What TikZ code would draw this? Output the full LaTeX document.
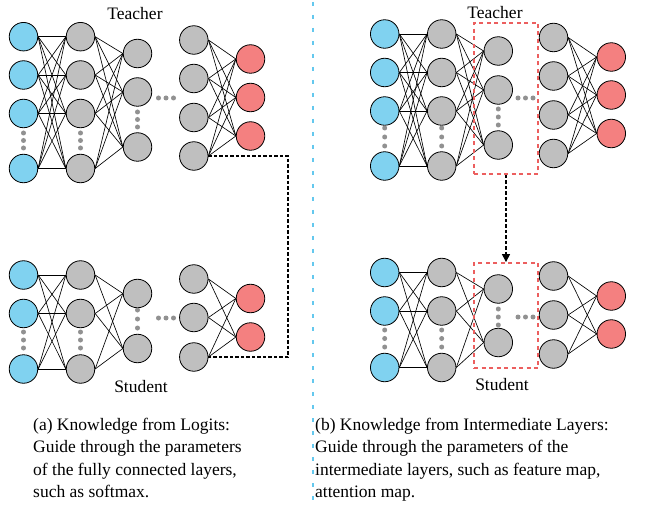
\documentclass[tikz,border=0pt]{standalone}
\usepackage{fontspec}
\setmainfont{Liberation Serif}
\usetikzlibrary{arrows.meta}
\definecolor{inblue}{RGB}{128,210,240}
\definecolor{hidgray}{RGB}{191,191,191}
\definecolor{outred}{RGB}{244,128,128}
\definecolor{dotgray}{RGB}{145,145,145}
\definecolor{divblue}{RGB}{100,200,238}
\definecolor{boxred}{RGB}{236,95,95}
\tikzset{
  neuron/.style={circle, draw=black, line width=0.8pt, minimum size=28.5pt, inner sep=0pt},
  inp/.style={neuron, fill=inblue},
  hid/.style={neuron, fill=hidgray},
  outp/.style={neuron, fill=outred},
  conn/.style={line width=0.65pt, black},
  ddot/.style={circle, fill=dotgray, inner sep=0pt, minimum size=5pt},
  nnlabel/.style={font=\fontsize{17.5}{21}\selectfont, inner sep=0pt},
  caption/.style={font=\fontsize{17.5}{22.3}\selectfont, align=left, anchor=north west, inner sep=0pt},
  kdash/.style={black, line width=1.2pt, dash pattern=on 3.5pt off 2pt},
  featbox/.style={draw=boxred, line width=1.8pt, dash pattern=on 4pt off 3.5pt},
  divider/.style={divblue, line width=2.2pt, dash pattern=on 4pt off 9pt},
}
\newcommand\mkcol[4]{%
  \foreach \yy [count=\k] in {#4} {\node[#3] (#1-\k) at (#2,\yy) {};}}
\newcommand\mkconn[4]{%
  \foreach \a in {1,...,#2} {\foreach \b in {1,...,#4} {\draw[conn] (#1-\a.east) -- (#3-\b.west);}}}
\newcommand\mkdots[2]{% name prefix, list of x/y pairs
  \foreach \px/\py [count=\k] in {#2} {\node[ddot] (#1-\k) at (\px,\py) {};}}
\begin{document}
\begin{tikzpicture}[x=1pt,y=-1pt]
\useasboundingbox (0,0) rectangle (664,505);
\fill[white] (0,0) rectangle (664,505);

% ---------------- Left teacher ----------------
\mkcol{LTa}{23.5}{inp}{36.7,75,113.5,168.5}
\mkcol{LTb}{80.5}{hid}{36.7,75,113.5,168.5}
\mkcol{LTc}{137.5}{hid}{53.5,92,147}
\mkcol{LTd}{193.8}{hid}{40,78.5,117.5,156}
\mkcol{LTe}{250.5}{outp}{59,97.5,136}
\mkconn{LTa}{4}{LTb}{4}
\mkconn{LTb}{4}{LTc}{3}
\mkconn{LTd}{4}{LTe}{3}
\mkdots{LTda}{23.5/133,23.5/140.5,23.5/148}
\mkdots{LTdb}{80.5/133,80.5/140.5,80.5/148}
\mkdots{LTdc}{137.5/112,137.5/119.5,137.5/127}
\mkdots{LTdh}{158.5/98,166/98,173.5/98}
\node[nnlabel] (LTlab) at (135,14) {Teacher};

% ---------------- Left student ----------------
\mkcol{LSa}{23.5}{inp}{275,313.5,369}
\mkcol{LSb}{80.5}{hid}{275,313.5,369}
\mkcol{LSc}{137.5}{hid}{293.5,348.5}
\mkcol{LSd}{193.8}{hid}{279,317.5,357}
\mkcol{LSe}{250.5}{outp}{298.5,337}
\mkconn{LSa}{3}{LSb}{3}
\mkconn{LSb}{3}{LSc}{2}
\mkconn{LSd}{3}{LSe}{2}
\mkdots{LSda}{23.5/332,23.5/340,23.5/348}
\mkdots{LSdb}{80.5/332,80.5/340,80.5/348}
\mkdots{LSdc}{137.5/310,137.5/319,137.5/328}
\mkdots{LSdh}{158.5/318,166/318,173.5/318}
\node[nnlabel] (LSlab) at (141,387) {Student};

% logits connector
\coordinate (LK1) at (288,156);
\coordinate (LK2) at (288,357);
\draw[kdash] (LTd-4.east) -- (LK1) -- (LK2) -- (LSd-3.east);

% ---------------- Divider ----------------
\coordinate (DV1) at (313,2);
\coordinate (DV2) at (313,505);
\draw[divider] (DV1) -- (DV2);

% ---------------- Right teacher ----------------
\mkcol{RTa}{384.7}{inp}{34,72.5,111,166}
\mkcol{RTb}{441.7}{hid}{34,72.5,111,166}
\mkcol{RTc}{498.3}{hid}{51,90,145}
\mkcol{RTd}{553.5}{hid}{37.5,76,115,153.5}
\mkcol{RTe}{611.3}{outp}{57,95,133.5}
\mkconn{RTa}{4}{RTb}{4}
\mkconn{RTb}{4}{RTc}{3}
\mkconn{RTd}{4}{RTe}{3}
\mkdots{RTda}{384.7/128,384.7/137,384.7/146}
\mkdots{RTdb}{441.7/128,441.7/137,441.7/146}
\mkdots{RTdc}{498.3/109,498.3/117,498.3/125}
\mkdots{RTdh}{518/98,525.5/98,533/98}
\node[nnlabel] (RTlab) at (495,12.5) {Teacher};
\node[featbox, minimum width=64pt, minimum height=151pt, inner sep=0pt] (RTbox) at (506,98.5) {};

% ---------------- Right student ----------------
\mkcol{RSa}{384.7}{inp}{272.5,311,367.5}
\mkcol{RSb}{441.7}{hid}{272.5,311,367.5}
\mkcol{RSc}{498.3}{hid}{289,342.5}
\mkcol{RSd}{553.5}{hid}{276,315,354}
\mkcol{RSe}{611.3}{outp}{296,334}
\mkconn{RSa}{3}{RSb}{3}
\mkconn{RSb}{3}{RSc}{2}
\mkconn{RSd}{3}{RSe}{2}
\mkdots{RSda}{384.7/330,384.7/338.5,384.7/347}
\mkdots{RSdb}{441.7/330,441.7/338.5,441.7/347}
\mkdots{RSdc}{498.3/309,498.3/317,498.3/325}
\mkdots{RSdh}{518/317,525.5/317,533/317}
\node[nnlabel] (RSlab) at (502,385) {Student};
\node[featbox, minimum width=64pt, minimum height=105pt, inner sep=0pt] (RSbox) at (506,315.5) {};

% intermediate connector
\draw[kdash, -{Triangle[length=8pt,width=8pt]}] (RTbox.south) -- (RSbox.north);

% ---------------- Captions ----------------
\node[caption] (capA) at (33,418) {(a) Knowledge from Logits:\\Guide through the parameters\\of the fully connected layers,\\such as softmax.};
\node[caption] (capB) at (315,418) {(b) Knowledge from Intermediate Layers:\\Guide through the parameters of the\\intermediate layers, such as feature map,\\attention map.};
\end{tikzpicture}
\end{document}
